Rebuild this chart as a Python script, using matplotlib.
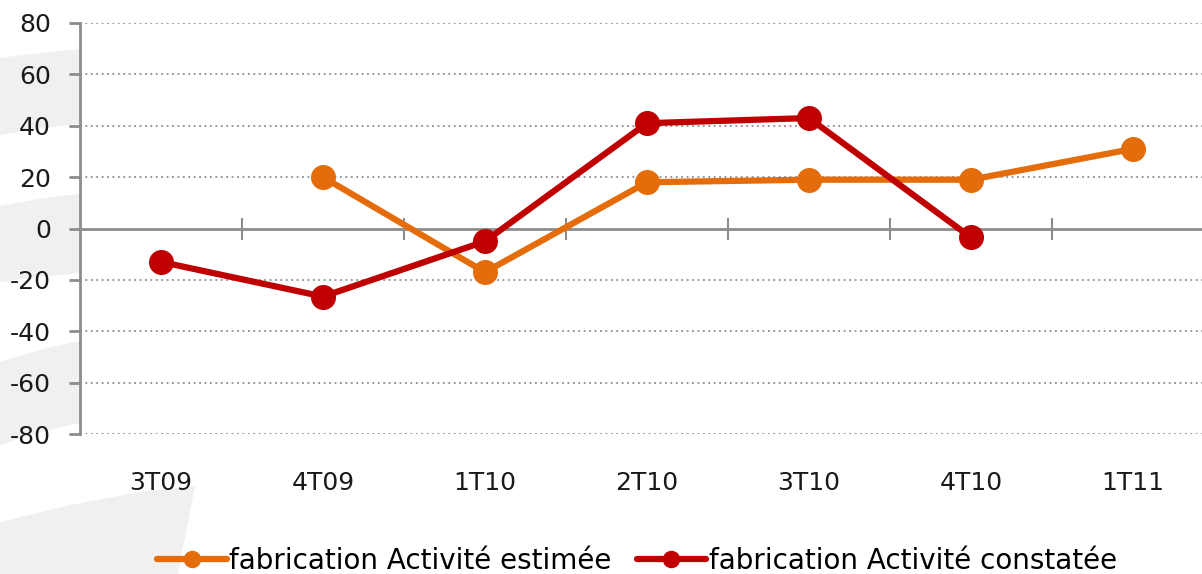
import numpy as np
import matplotlib.pyplot as plt
from matplotlib.patches import Polygon

quarters = ['3T09', '4T09', '1T10', '2T10', '3T10', '4T10', '1T11']
estimee = [np.nan, 20, -17, 18, 19, 19, 31]
constatee = [-13, -26.5, -5, 41, 43, -3.5, np.nan]

plt.rcParams['font.family'] = ['DejaVu Sans']

fig = plt.figure(figsize=(12.02, 5.74), dpi=100)

# faint watermark swooshes behind the chart (pixel coords, y down)
bg = fig.add_axes([0, 0, 1, 1], zorder=-10)
bg.set_xlim(0, 1202)
bg.set_ylim(574, 0)
bg.axis('off')
t = np.linspace(0, 1, 30)


def band(x1, y_top0, y_top1, y_bot0, y_bot1):
    s = np.sin(t * np.pi / 2)
    top = np.column_stack([t * x1, y_top0 + (y_top1 - y_top0) * s])
    bot = np.column_stack([t[::-1] * x1, y_bot0 + (y_bot1 - y_bot0) * s[::-1]])
    return np.vstack([top, bot])


shapes = [
    band(120, 58, 48, 135, 122),
    band(120, 206, 192, 282, 272),
    band(120, 362, 338, 445, 420),
    np.array([[0, 522], [70, 505], [140, 492], [195, 486], [178, 574], [0, 574]]),
]
for pts in shapes:
    bg.add_patch(Polygon(pts, closed=True, color='#f0f0f0', lw=0))

ax = fig.add_axes([80 / 1202, (574 - 434) / 574, 1134 / 1202, 411 / 574])
x = np.arange(len(quarters))

ax.plot(x, estimee, color='#E46C0A', lw=4.5, marker='o', ms=17, label='fabrication Activité estimée', solid_capstyle='round')
ax.plot(x, constatee, color='#C00000', lw=4.5, marker='o', ms=17, label='fabrication Activité constatée', solid_capstyle='round')

ax.set_xlim(-0.5, 6.5)
ax.set_ylim(-80, 80)
ax.set_yticks(np.arange(-80, 81, 20))
ax.set_yticklabels([str(v) for v in range(-80, 81, 20)], fontsize=18)
ax.tick_params(axis='y', length=8, width=2, color='#8c8c8c', pad=13)

for v in range(-80, 81, 20):
    if v != 0:
        ax.axhline(v, color='#8c8c8c', lw=1.3, ls=(0, (1, 2)), zorder=0)

ax.spines['top'].set_visible(False)
ax.spines['right'].set_visible(False)
ax.spines['left'].set_color('#8c8c8c')
ax.spines['left'].set_linewidth(2)
ax.spines['bottom'].set_position(('data', 0))
ax.spines['bottom'].set_color('#8c8c8c')
ax.spines['bottom'].set_linewidth(2)
ax.spines['bottom'].set_zorder(1)

ax.set_xticks(np.arange(0.5, 6.5, 1))
ax.set_xticklabels([])
ax.tick_params(axis='x', direction='inout', length=16, width=1.5, color='#8c8c8c')
for i, q in enumerate(quarters):
    ax.text(i, -99, q, ha='center', va='center', fontsize=18, color='#1a1a1a')

for lab in ax.get_yticklabels():
    lab.set_color('#1a1a1a')

fig.legend(loc='lower center', bbox_to_anchor=(0.53, -0.045), ncol=2, frameon=False,
           fontsize=20, handlelength=2.5, handletextpad=0.1, columnspacing=0.9, markerscale=0.68)

fig.savefig('out.png', dpi=100)
